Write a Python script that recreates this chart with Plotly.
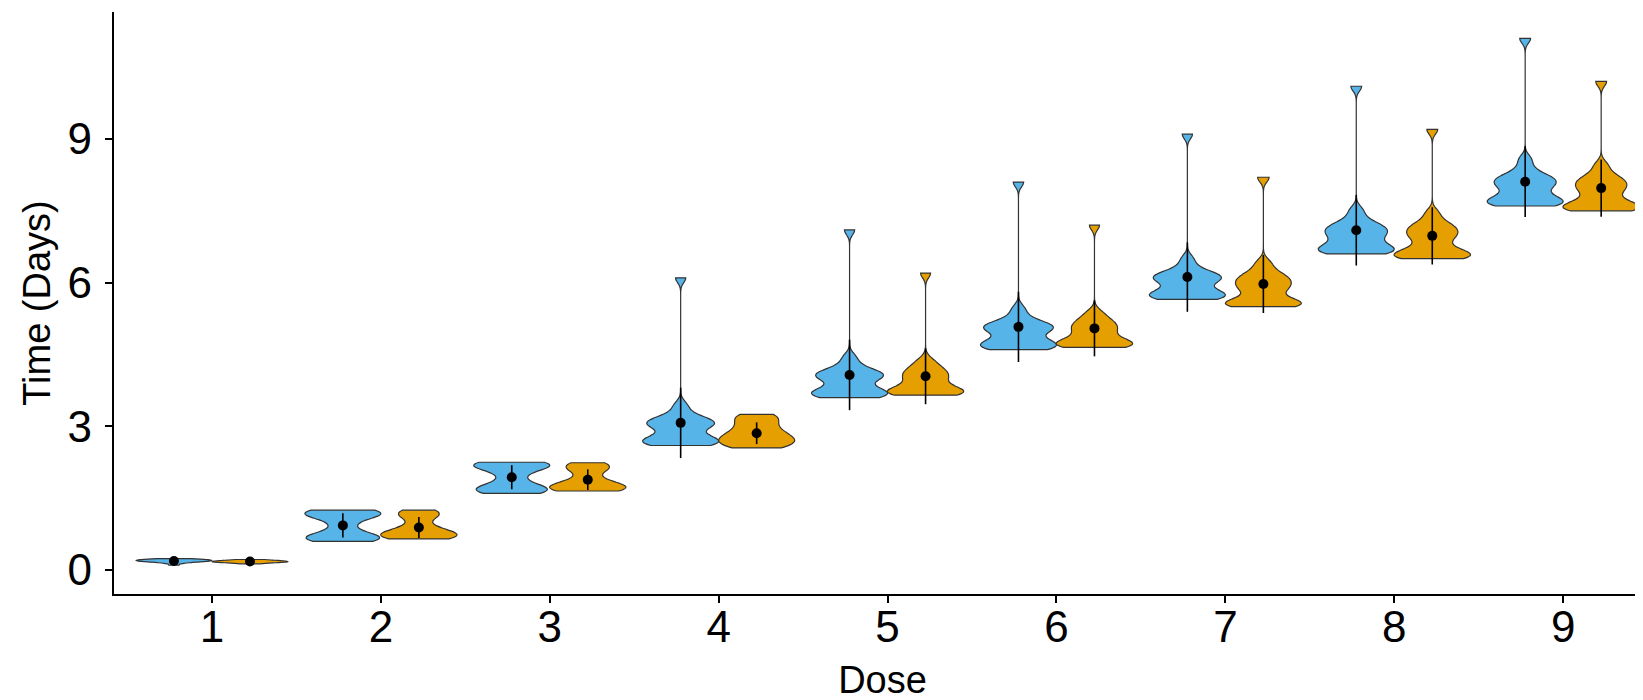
import numpy as np
import plotly.graph_objects as go

doses = ["1", "2", "3", "4", "5", "6", "7", "8", "9"]
y_ticks = [0, 3, 6, 9]

# Observed times (days), blue group, one list per dose
blue_1 = [0.10, 0.14, 0.16, 0.17, 0.18, 0.18, 0.19, 0.19, 0.20, 0.20, 0.21, 0.21, 0.22, 0.22, 0.23, 0.24]
blue_2 = [0.60, 0.62, 0.64, 0.66, 0.68, 0.70, 0.73, 0.77, 0.90, 1.00, 1.10, 1.13, 1.16, 1.18, 1.20, 1.22, 1.24, 1.25]
blue_3 = [1.60, 1.62, 1.64, 1.66, 1.69, 1.72, 1.75, 1.79, 1.90, 2.00, 2.10, 2.13, 2.16, 2.19, 2.21, 2.23, 2.24, 2.25]
blue_4 = [2.60, 2.61, 2.63, 2.65, 2.68, 2.71, 2.74, 2.77, 2.80, 2.88, 2.97, 3.00, 3.03, 3.06, 3.09, 3.12,
          3.15, 3.19, 3.30, 3.45, 6.10]
blue_5 = [3.60, 3.61, 3.63, 3.65, 3.68, 3.71, 3.74, 3.77, 3.80, 3.88, 3.97, 4.00, 4.03, 4.06, 4.09, 4.12,
          4.15, 4.19, 4.30, 4.45, 7.10]
blue_6 = [4.60, 4.61, 4.63, 4.66, 4.69, 4.72, 4.75, 4.78, 4.81, 4.89, 4.97, 5.00, 5.03, 5.06, 5.09, 5.12,
          5.15, 5.19, 5.30, 5.46, 8.10]
blue_7 = [5.65, 5.66, 5.68, 5.70, 5.73, 5.76, 5.79, 5.82, 5.85, 5.93, 6.01, 6.04, 6.07, 6.10, 6.13, 6.16,
          6.19, 6.23, 6.34, 6.50, 9.10]
blue_8 = [6.60, 6.61, 6.63, 6.66, 6.69, 6.72, 6.75, 6.79, 6.84, 6.90, 6.96, 7.00, 7.04, 7.08, 7.12, 7.16,
          7.20, 7.25, 7.36, 7.52, 10.10]
blue_9 = [7.60, 7.61, 7.63, 7.66, 7.69, 7.72, 7.75, 7.79, 7.84, 7.91, 7.98, 8.02, 8.06, 8.10, 8.14, 8.18,
          8.22, 8.27, 8.40, 8.58, 11.10]

# Observed times (days), orange group, one list per dose
orange_1 = [0.13, 0.15, 0.16, 0.16, 0.17, 0.17, 0.18, 0.18, 0.19, 0.19, 0.20, 0.21, 0.22]
orange_2 = [0.65, 0.66, 0.68, 0.70, 0.72, 0.74, 0.76, 0.79, 0.82, 0.86, 0.95, 1.10, 1.14, 1.18, 1.22, 1.25]
orange_3 = [1.65, 1.66, 1.68, 1.70, 1.72, 1.74, 1.77, 1.80, 1.84, 1.93, 2.08, 2.12, 2.16, 2.20, 2.24]
orange_4 = [2.55, 2.57, 2.60, 2.63, 2.66, 2.69, 2.72, 2.75, 2.78, 2.81, 2.85, 2.89, 2.94, 3.00, 3.06, 3.12,
            3.18, 3.22, 3.25]
orange_5 = [3.65, 3.66, 3.68, 3.70, 3.72, 3.74, 3.77, 3.80, 3.86, 3.93, 3.99, 4.04, 4.09, 4.14, 4.19,
            4.27, 4.38, 6.20]
orange_6 = [4.65, 4.66, 4.68, 4.70, 4.72, 4.74, 4.77, 4.80, 4.86, 4.93, 4.99, 5.04, 5.09, 5.14, 5.19,
            5.27, 5.38, 7.20]
orange_7 = [5.50, 5.51, 5.53, 5.55, 5.58, 5.61, 5.64, 5.72, 5.82, 5.87, 5.92, 5.97, 6.02, 6.07, 6.12,
            6.17, 6.27, 6.42, 8.20]
orange_8 = [6.50, 6.51, 6.53, 6.55, 6.58, 6.61, 6.64, 6.68, 6.74, 6.82, 6.91, 6.96, 7.01, 7.06, 7.11,
            7.16, 7.21, 7.30, 7.46, 9.20]
orange_9 = [7.50, 7.51, 7.53, 7.55, 7.58, 7.61, 7.64, 7.68, 7.74, 7.82, 7.90, 7.95, 8.00, 8.05, 8.10,
            8.15, 8.20, 8.30, 8.46, 10.20]

blue_groups = [blue_1, blue_2, blue_3, blue_4, blue_5, blue_6, blue_7, blue_8, blue_9]
orange_groups = [orange_1, orange_2, orange_3, orange_4, orange_5, orange_6, orange_7, orange_8, orange_9]

BLUE = "#56B4E9"
ORANGE = "#E69F00"
OUTLINE = "#333333"
FONT = "Liberation Sans, Arial, sans-serif"

fig = go.Figure()


def add_group(groups, color, name):
    # one violin trace per dose so that each violin gets the full (same) maximum width
    for d, vals in zip(doses, groups):
        bw = None if d == "1" else 0.1   # dose 1 is very narrow: let Plotly pick its own kernel width
        fig.add_trace(go.Violin(
            x=[d] * len(vals), y=vals, name=name, offsetgroup=name, legendgroup=name,
            scalegroup=name + d, scalemode="width",
            fillcolor=color, line=dict(color=OUTLINE, width=1.2), opacity=1,
            spanmode="hard", points=False, bandwidth=bw,
            box_visible=False, meanline_visible=False, showlegend=False,
            hoverinfo="skip",
        ))


add_group(blue_groups, BLUE, "b")
add_group(orange_groups, ORANGE, "o")


def add_summary(groups, name):
    means = [float(np.mean(v)) for v in groups]
    sds = [float(np.std(v, ddof=1)) for v in groups]
    fig.add_trace(go.Scatter(
        x=doses, y=means, mode="markers", offsetgroup=name,
        marker=dict(color="black", size=10),
        error_y=dict(type="data", array=sds, width=0, thickness=1.6, color="black"),
        showlegend=False, hoverinfo="skip",
    ))


add_summary(blue_groups, "b")
add_summary(orange_groups, "o")

axis_common = dict(
    showline=True, linecolor="black", linewidth=2.2,
    ticks="outside", tickcolor="black", tickwidth=2.2, ticklen=7,
    showgrid=False, zeroline=False,
    tickfont=dict(family=FONT, size=44, color="black"),
)

fig.update_layout(
    width=1643, height=700,
    paper_bgcolor="white", plot_bgcolor="white",
    margin=dict(l=106, r=0, t=4, b=114),
    violinmode="group", violingap=0.1, violingroupgap=0,
    scattermode="group", scattergap=0.1,
    showlegend=False,
    xaxis=dict(type="category", categoryorder="array", categoryarray=doses,
               range=[-0.58, 8.52], ticklabelstandoff=-14,
               title=dict(text="Dose", font=dict(family=FONT, size=38, color="black"), standoff=16),
               **axis_common),
    yaxis=dict(range=[-0.5, 11.65], tickvals=y_ticks, ticktext=[str(t) for t in y_ticks],
               ticklabelstandoff=4,
               title=dict(text="Time (Days)", font=dict(family=FONT, size=38, color="black"), standoff=5),
               **axis_common),
)

fig.write_html("out.html")
